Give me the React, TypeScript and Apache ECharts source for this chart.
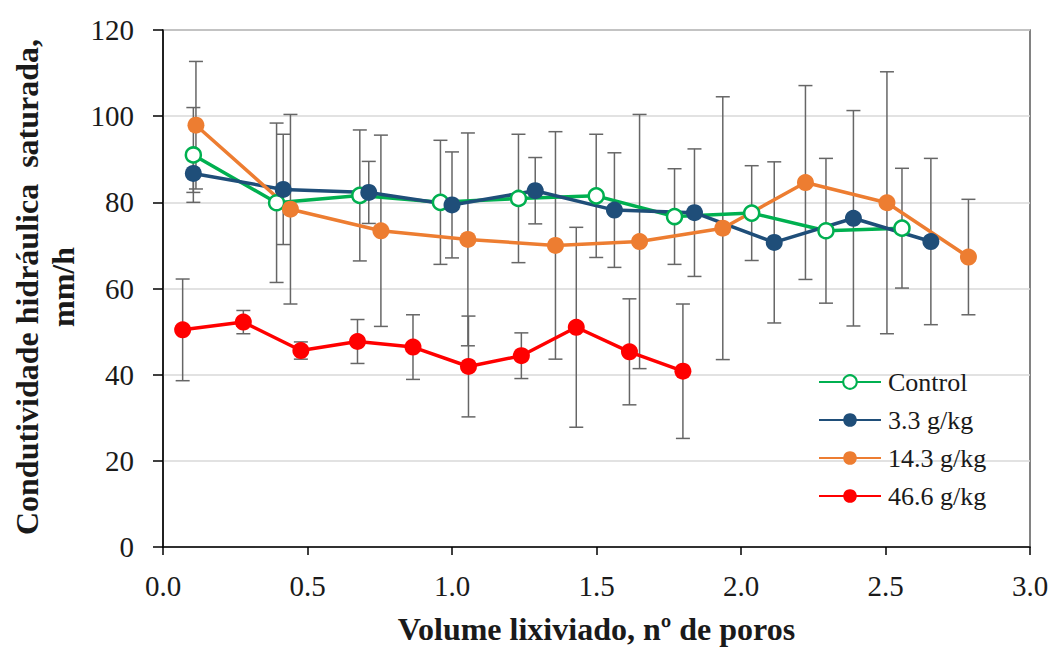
import React, { useEffect, useRef } from "react";
import * as echarts from "echarts";

const seriesNames = ["Control", "3.3 g/kg", "14.3 g/kg", "46.6 g/kg"];
const seriesColors = ["#00B050", "#1F4E79", "#ED7D31", "#FF0000"];

const controlX = [0.105, 0.393, 0.681, 0.96, 1.23, 1.499, 1.77, 2.037, 2.294, 2.557];
const controlY = [91.0, 79.9, 81.6, 80.0, 80.9, 81.5, 76.7, 77.5, 73.4, 74.0];
const controlErr = [11, 18.5, 15.2, 14.4, 14.9, 14.3, 11.1, 11, 16.8, 13.9];

const blueX = [0.105, 0.416, 0.712, 1.0, 1.288, 1.562, 1.839, 2.115, 2.389, 2.657];
const blueY = [86.7, 83.0, 82.3, 79.4, 82.7, 78.2, 77.6, 70.7, 76.3, 70.9];
const blueErr = [4.4, 12.8, 7.2, 12.3, 7.7, 13.3, 14.8, 18.7, 25, 19.3];

const orangeX = [0.114, 0.441, 0.754, 1.055, 1.358, 1.649, 1.937, 2.223, 2.505, 2.787];
const orangeY = [97.9, 78.4, 73.4, 71.4, 70.0, 70.9, 74.0, 84.6, 79.9, 67.3];
const orangeErr = [14.8, 22, 22.2, 24.7, 26.4, 29.5, 30.5, 22.5, 30.4, 13.4];

const redX = [0.068, 0.278, 0.477, 0.673, 0.865, 1.057, 1.24, 1.43, 1.614, 1.799];
const redY = [50.4, 52.2, 45.6, 47.7, 46.4, 41.9, 44.4, 51.0, 45.3, 40.8];
const redErr = [11.8, 2.7, 2.0, 5.1, 7.5, 11.7, 5.3, 23.2, 12.3, 15.6];

const xTitle = "Volume lixiviado, nº de poros";
const yTitle = "Condutividade hidráulica  saturada,\nmm/h";

const allX = [controlX, blueX, orangeX, redX];
const allY = [controlY, blueY, orangeY, redY];
const allErr = [controlErr, blueErr, orangeErr, redErr];

const FONT = "Liberation Serif";

export default function App() {
  const ref = useRef<HTMLDivElement>(null);
  useEffect(() => {
    if (!ref.current) return;
    const chart = echarts.init(ref.current, undefined, { renderer: "svg" });

    const errSeries = allX.map((xs, si) => ({
      type: "custom",
      name: "err" + si,
      z: 1,
      silent: true,
      encode: { x: 0, y: [1, 2] },
      data: xs.map((x, i) => [x, allY[si][i] - allErr[si][i], allY[si][i] + allErr[si][i]]),
      renderItem: (params: any, api: any) => {
        const x = api.value(0);
        const top = api.coord([x, api.value(2)]);
        const bot = api.coord([x, api.value(1)]);
        const hw = 7;
        const st = { stroke: "#666666", lineWidth: 1.5 };
        return {
          type: "group",
          children: [
            { type: "line", shape: { x1: top[0], y1: top[1], x2: bot[0], y2: bot[1] }, style: st },
            { type: "line", shape: { x1: top[0] - hw, y1: top[1], x2: top[0] + hw, y2: top[1] }, style: st },
            { type: "line", shape: { x1: bot[0] - hw, y1: bot[1], x2: bot[0] + hw, y2: bot[1] }, style: st },
          ],
        };
      },
    }));

    const lineSeries = allX.map((xs, si) => ({
      type: "line",
      name: seriesNames[si],
      z: 3,
      data: xs.map((x, i) => [x, allY[si][i]]),
      symbol: "circle",
      symbolSize: si === 0 ? 15 : 17,
      showAllSymbol: true,
      lineStyle: { color: seriesColors[si], width: 3.5 },
      itemStyle:
        si === 0
          ? { color: "#ffffff", borderColor: seriesColors[si], borderWidth: 2.5 }
          : { color: seriesColors[si], borderWidth: 0 },
      emphasis: { disabled: true },
    }));

    chart.setOption({
      animation: false,
      grid: {
        left: 163,
        right: 21,
        top: 30,
        bottom: 102,
        show: true,
        containLabel: false,
        outerBoundsMode: "none",
        borderColor: "#595959",
        borderWidth: 1.5,
      },
      xAxis: {
        type: "value",
        min: 0,
        max: 3,
        interval: 0.5,
        name: xTitle,
        nameLocation: "middle",
        nameGap: 66,
        nameTextStyle: { fontFamily: FONT, fontWeight: "bold", fontSize: 32, color: "#1a1a1a" },
        axisLine: { show: true, onZero: false, lineStyle: { color: "#000", width: 1.5 } },
        axisTick: { show: true, length: 8, lineStyle: { color: "#000", width: 1.5 } },
        splitLine: { show: false },
        axisLabel: {
          margin: 24,
          fontFamily: FONT,
          fontSize: 29,
          color: "#1a1a1a",
          formatter: (v: number) => v.toFixed(1),
        },
      },
      yAxis: {
        type: "value",
        min: 0,
        max: 120,
        interval: 20,
        axisLine: { show: true, lineStyle: { color: "#000", width: 1.5 } },
        axisTick: { show: true, length: 10, lineStyle: { color: "#000", width: 1.5 } },
        splitLine: { show: true, lineStyle: { color: "#d9d9d9", width: 1.5 } },
        axisLabel: { margin: 29, fontFamily: FONT, fontSize: 29, color: "#1a1a1a" },
      },
      legend: {
        data: seriesNames,
        orient: "vertical",
        left: 813,
        top: 364,
        itemWidth: 62,
        itemHeight: 17,
        itemGap: 12,
        textStyle: { fontFamily: FONT, fontSize: 26, color: "#1a1a1a", padding: [0, 0, 0, 2] },
        selectedMode: false,
      },
      graphic: [
        {
          type: "text",
          x: 45,
          y: 287,
          rotation: Math.PI / 2,
          style: {
            text: yTitle,
            fontFamily: FONT,
            fontWeight: "bold",
            fontSize: 32,
            fill: "#1a1a1a",
            align: "center",
            verticalAlign: "middle",
            lineHeight: 36,
          },
        },
      ],
      series: [...errSeries, ...lineSeries],
    });
    return () => chart.dispose();
  }, []);
  return (
    <div
      ref={ref}
      style={{ position: "absolute", left: 0, top: 0, width: 1051, height: 649 }}
    />
  );
}
